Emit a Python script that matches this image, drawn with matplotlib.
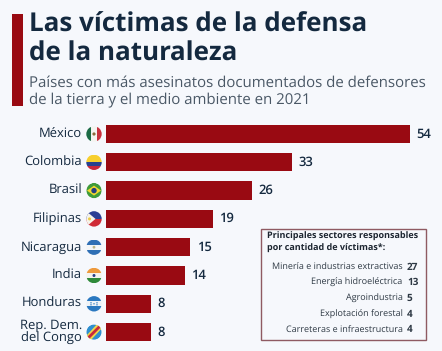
import matplotlib
matplotlib.use("Agg")
import matplotlib.pyplot as plt
from matplotlib.patches import Rectangle, Circle, Polygon

W, H = 442, 351
BG = "#f6f8fc"
RED = "#990a12"
NAVY = "#14293f"
GREY = "#4a5866"

countries = ["México", "Colombia", "Brasil", "Filipinas", "Nicaragua", "India",
             "Honduras", "Rep. Dem.\ndel Congo"]
victims = [54, 33, 26, 19, 15, 14, 8, 8]
sectors = ["Minería e industrias extractivas", "Energía hidroeléctrica", "Agroindustria",
           "Explotación forestal", "Carreteras e infraestructura"]
sector_victims = [27, 13, 5, 4, 4]

plt.rcParams["font.family"] = ["Open Sans", "DejaVu Sans"]
# sin hinting los anchos de texto escalan bien con el tamano
plt.rcParams["text.hinting"] = "no_hinting"
plt.rcParams["text.hinting_factor"] = 1

fig = plt.figure(figsize=(W / 100, H / 100), dpi=100, facecolor=BG)

# capa en pixeles para titulo, banderas y recuadro
bg = fig.add_axes([0, 0, 1, 1])
bg.set_xlim(0, W)
bg.set_ylim(H, 0)
bg.axis("off")

bg.add_patch(Rectangle((12, 14), 11, 92, color=RED, lw=0))
bg.text(29, 24.5, "Las víctimas de la defensa", fontsize=18.7, fontweight="bold",
        color=NAVY, va="center")
bg.text(29, 54, "de la naturaleza", fontsize=18.7, fontweight="bold", color=NAVY, va="center")
bg.text(29, 83, "Países con más asesinatos documentados de defensores", fontsize=10.6,
        color=GREY, va="center")
bg.text(29, 101, "de la tierra y el medio ambiente en 2021", fontsize=10.6,
        color=GREY, va="center")

# barras
px_top, px_step = 119.85, 28.3
ax = fig.add_axes([106 / W, 1 - (px_top + 8 * px_step) / H, 304 / W, 8 * px_step / H])
ax.patch.set_alpha(0)
ypos = list(range(len(countries)))
bars = ax.barh(ypos, victims, height=0.65, color=RED)
ax.set_xlim(0, 54)
ax.set_ylim(len(countries) - 0.5, -0.5)
ax.axis("off")
ax.bar_label(bars, padding=4.5, fontsize=9, fontweight="semibold", color=NAVY)
for y, name in zip(ypos, countries):
    ax.annotate(name, (0, y), xytext=(-24, 0), textcoords="offset pixels", ha="right",
                va="center", fontsize=9.4, color=NAVY, linespacing=0.95)


def flag(cy, parts, cx=94, r=7.7):
    # cada parte se recorta al circulo de la bandera
    clip = Circle((cx, cy), r, transform=bg.transData)
    for p in parts:
        bg.add_patch(p)
        p.set_clip_path(clip)


def hstripes(cy, colors, shares, cx=94, r=7.7):
    out, top = [], cy - r
    for c, s in zip(colors, shares):
        out.append(Rectangle((cx - r, top), 2 * r, 2 * r * s, color=c, lw=0))
        top += 2 * r * s
    return out


def vstripes(cy, colors, cx=94, r=7.7):
    w = 2 * r / len(colors)
    return [Rectangle((cx - r + i * w, cy - r), w, 2 * r, color=c, lw=0)
            for i, c in enumerate(colors)]


cy = [px_top + (i + 0.5) * px_step for i in ypos]
third = [1 / 3] * 3
flag(cy[0], vstripes(cy[0], ["#1b6b45", "#f4f4f0", "#c8313e"])
     + [Circle((94, cy[0]), 1.6, color="#8a6a3a", lw=0)])
flag(cy[1], hstripes(cy[1], ["#f7cf2e", "#27418f", "#c8283c"], [0.5, 0.25, 0.25]))
flag(cy[2], [Circle((94, cy[2]), 7.7, color="#3f9b3a", lw=0),
             Polygon([(87, cy[2]), (94, cy[2] - 5), (101, cy[2]), (94, cy[2] + 5)],
                     color="#f2d82f", lw=0),
             Circle((94, cy[2]), 2.7, color="#23407f", lw=0)])
flag(cy[3], hstripes(cy[3], ["#2a3f95", "#cf2a36"], [0.5, 0.5])
     + [Polygon([(86, cy[3] - 8), (95.5, cy[3]), (86, cy[3] + 8)], color="#f5f3ea", lw=0),
        Circle((89.5, cy[3]), 1.5, color="#eccb45", lw=0)])
flag(cy[4], hstripes(cy[4], ["#2f6fb5", "#f3f5f7", "#2f6fb5"], third)
     + [Circle((94, cy[4]), 1.4, color="#b9b48a", lw=0)])
flag(cy[5], hstripes(cy[5], ["#ee9a3c", "#f5f3ee", "#2f8a3a"], third)
     + [Circle((94, cy[5]), 1.5, color="#2a3f85", lw=0)])
flag(cy[6], hstripes(cy[6], ["#2a78c0", "#eef2f6", "#2a78c0"], third)
     + [Circle((94 + dx, cy[6] + dy), 0.7, color="#2a78c0", lw=0)
        for dx, dy in [(-3, -1), (-3, 1), (0, 0), (3, -1), (3, 1)]])
flag(cy[7], [Circle((94, cy[7]), 7.7, color="#2f8fd0", lw=0),
             Polygon([(85, cy[7] + 5), (85, cy[7] + 9), (90, cy[7] + 9), (103, cy[7] - 5),
                      (103, cy[7] - 9), (98, cy[7] - 9)], color="#f0d64a", lw=0),
             Polygon([(85, cy[7] + 7), (87, cy[7] + 9), (103, cy[7] - 7), (101, cy[7] - 9)],
                     color="#c8283c", lw=0)])

# recuadro de sectores
bg.add_patch(Rectangle((260.5, 228.5), 165.5, 111.5, fc=BG, ec="#8f5a62", lw=1))
bg.text(267, 236.7, "Principales sectores responsables", fontsize=6.55, fontweight="bold",
        color="#1c2530", va="center")
bg.text(267, 248.3, "por cantidad de víctimas*:", fontsize=6.55, fontweight="bold",
        color="#1c2530", va="center")
for i, (name, n) in enumerate(zip(sectors, sector_victims)):
    y = 267 + i * 15.7
    bg.text(402.7, y, name, fontsize=6.65, color="#2e3944", ha="right", va="center")
    bg.text(407, y, str(n), fontsize=7.3, fontweight="bold", color="#2e3944", va="center")

fig.savefig("out.png", dpi=100, facecolor=BG)
